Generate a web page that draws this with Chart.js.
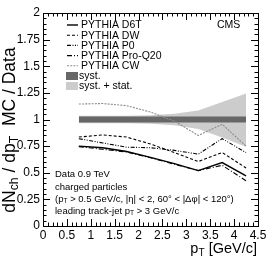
<!DOCTYPE html>
<html><head><meta charset="utf-8">
<script src="https://cdn.jsdelivr.net/npm/chart.js@4"></script>
<style>html,body{margin:0;padding:0;background:#fff}#wrap{width:269px;height:259px}</style>
</head><body><div id="wrap"><canvas id="c" width="269" height="259"></canvas></div>
<script>
const ptBins   = [0.75, 1.25, 1.75, 2.25, 2.75, 3.25, 3.75, 4.25];
const d6t      = [0.750, 0.735, 0.700, 0.645, 0.585, 0.520, 0.595, 0.470];
const dw       = [0.835, 0.855, 0.835, 0.770, 0.690, 0.605, 0.690, 0.545];
const p0       = [0.820, 0.780, 0.740, 0.735, 0.710, 0.675, 0.820, 0.690];
const proQ20   = [0.745, 0.720, 0.695, 0.640, 0.580, 0.520, 0.570, 0.425];
const cw       = [1.145, 1.150, 1.130, 1.070, 0.985, 0.850, 0.955, 0.750];
const systLow  = [0.973, 0.973, 0.973, 0.973, 0.973, 0.973, 0.973, 0.973];
const systHigh = [1.027, 1.027, 1.027, 1.027, 1.027, 1.027, 1.027, 1.027];
const totLow   = [0.965, 0.965, 0.965, 0.960, 0.945, 0.910, 0.830, 0.745];
const totHigh  = [1.035, 1.035, 1.035, 1.040, 1.055, 1.085, 1.165, 1.245];
const yTicks   = [0, 0.25, 0.5, 0.75, 1, 1.25, 1.5, 1.75, 2];
const xTicks   = [0, 0.5, 1, 1.5, 2, 2.5, 3, 3.5, 4, 4.5];
const seriesNames = ['PYTHIA D6T', 'PYTHIA DW', 'PYTHIA P0', 'PYTHIA Pro-Q20', 'PYTHIA CW'];

const FONT = '"Liberation Sans", Arial, Helvetica, sans-serif';
const pts = arr => ptBins.map((x, i) => ({x: x, y: arr[i]}));

const styles = [
  {color: '#000', dash: [], width: 1.4},
  {color: '#000', dash: [3, 2], width: 1.1},
  {color: '#000', dash: [4, 1.5, 1, 1.5, 1, 1.5], width: 1.1},
  {color: '#000', dash: [5, 2, 1, 2], width: 1.1},
  {color: '#8c8c8c', dash: [2, 1.2], width: 1.1}
];
const seriesData = [d6t, dw, p0, proQ20, cw];

const datasets = [
  {data: pts(totLow), borderWidth: 0, pointRadius: 0, fill: false, order: 10},
  {data: pts(totHigh), borderWidth: 0, pointRadius: 0, fill: '-1', backgroundColor: '#cccccc', order: 10},
  {data: pts(systLow), borderWidth: 0, pointRadius: 0, fill: false, order: 9},
  {data: pts(systHigh), borderWidth: 0, pointRadius: 0, fill: '-1', backgroundColor: '#676767', order: 9}
];
seriesData.forEach((arr, i) => {
  datasets.push({label: seriesNames[i], data: pts(arr), borderColor: styles[i].color,
    borderDash: styles[i].dash, borderWidth: styles[i].width, pointRadius: 0, fill: false,
    tension: 0, order: i});
});

function rich(ctx, parts, x, y, size, align) {
  let total = 0;
  const widths = parts.map(p => {
    ctx.font = (p[1] ? size * 0.7 : size) + 'px ' + FONT;
    const w = ctx.measureText(p[0]).width; total += w; return w;
  });
  let cx = align === 'right' ? x - total : (align === 'center' ? x - total / 2 : x);
  parts.forEach((p, i) => {
    ctx.font = (p[1] ? size * 0.7 : size) + 'px ' + FONT;
    ctx.fillText(p[0], cx, p[1] ? y + size * 0.28 : y);
    cx += widths[i];
  });
}

const rootPlugin = {
  id: 'rootStyle',
  afterDatasetsDraw(chart) {
    const ctx = chart.ctx, a = chart.chartArea;
    const xs = chart.scales.x, ys = chart.scales.y;
    ctx.save();
    ctx.strokeStyle = '#000'; ctx.lineWidth = 1; ctx.setLineDash([]);
    ctx.strokeRect(Math.round(a.left) + 0.5, Math.round(a.top) + 0.5, Math.round(a.right - a.left), Math.round(a.bottom - a.top));
    ctx.beginPath();
    for (let k = 0; k <= 40; k++) {
      const v = k * 0.05; const py = Math.round(ys.getPixelForValue(v)) + 0.5;
      const len = (k % 5 === 0) ? 7 : 3.5;
      ctx.moveTo(a.left, py); ctx.lineTo(a.left + len, py);
      ctx.moveTo(a.right, py); ctx.lineTo(a.right - len, py);
    }
    for (let k = 0; k <= 45; k++) {
      const v = k * 0.1; const px = Math.round(xs.getPixelForValue(v)) + 0.5;
      const len = (k % 5 === 0) ? 7 : 3.5;
      ctx.moveTo(px, a.bottom); ctx.lineTo(px, a.bottom - len);
      ctx.moveTo(px, a.top); ctx.lineTo(px, a.top + len);
    }
    ctx.stroke();

    ctx.fillStyle = '#000'; ctx.textBaseline = 'middle'; ctx.textAlign = 'left';
    const rows = [25, 35.2, 45.4, 55.6, 65.8];
    seriesNames.forEach((n, i) => {
      ctx.beginPath(); ctx.strokeStyle = styles[i].color; ctx.lineWidth = styles[i].width;
      ctx.setLineDash(styles[i].dash);
      ctx.moveTo(67, rows[i]); ctx.lineTo(78, rows[i]); ctx.stroke();
      ctx.font = '10.5px ' + FONT; ctx.fillStyle = '#000';
      ctx.fillText(n, 81, rows[i] + 0.5);
    });
    ctx.setLineDash([]);
    ctx.fillStyle = '#676767'; ctx.fillRect(66, 72, 12, 8);
    ctx.fillStyle = '#cccccc'; ctx.fillRect(66, 82, 12, 8);
    ctx.fillStyle = '#000'; ctx.font = '10.5px ' + FONT;
    ctx.fillText('syst.', 79, 76.5);
    ctx.fillText('syst. + stat.', 79, 86.5);
    ctx.fillText('CMS', 217, 25.5);

    const s = 9.5;
    rich(ctx, [['Data 0.9 TeV', false]], 55, 174, s, 'left');
    rich(ctx, [['charged particles', false]], 55, 187, s, 'left');
    rich(ctx, [['(p', false], ['T', true], [' > 0.5 GeV/c, |\u03b7| < 2, 60\u00b0 < |\u0394\u03c6| < 120\u00b0)', false]], 55, 199, s, 'left');
    rich(ctx, [['leading track-jet p', false], ['T', true], [' > 3 GeV/c', false]], 55, 211, s, 'left');

    rich(ctx, [['p', false], ['T', true], [' [GeV/c]', false]], 257, 249, 14.5, 'right');
    ctx.save();
    ctx.translate(10, 130); ctx.rotate(-Math.PI / 2);
    rich(ctx, [['dN', false], ['ch', true], [' / dp', false], ['T', true], ['  MC / Data', false]], 0, 0, 17.5, 'center');
    ctx.restore();
    ctx.restore();
  }
};

new Chart(document.getElementById('c'), {
  type: 'line',
  data: {datasets: datasets},
  options: {
    responsive: false, animation: false, devicePixelRatio: 1,
    layout: {padding: {left: 0, right: 11, top: 13, bottom: 0}},
    plugins: {legend: {display: false}, tooltip: {enabled: false}, title: {display: false}},
    scales: {
      x: {type: 'linear', min: 0, max: 4.5,
        afterBuildTicks: s => { s.ticks = xTicks.map(v => ({value: v})); },
        afterFit: s => { s.height = 33; },
        grid: {display: false, drawTicks: false}, border: {display: false},
        ticks: {color: '#000', font: {family: FONT, size: 12}, padding: 2, maxRotation: 0,
          callback: v => String(v)}},
      y: {type: 'linear', min: 0, max: 2,
        afterBuildTicks: s => { s.ticks = yTicks.map(v => ({value: v})); },
        afterFit: s => { s.width = 43; },
        grid: {display: false, drawTicks: false}, border: {display: false},
        ticks: {color: '#000', font: {family: FONT, size: 12}, padding: 3,
          callback: v => String(v)}}
    }
  },
  plugins: [rootPlugin]
});
</script></body></html>
